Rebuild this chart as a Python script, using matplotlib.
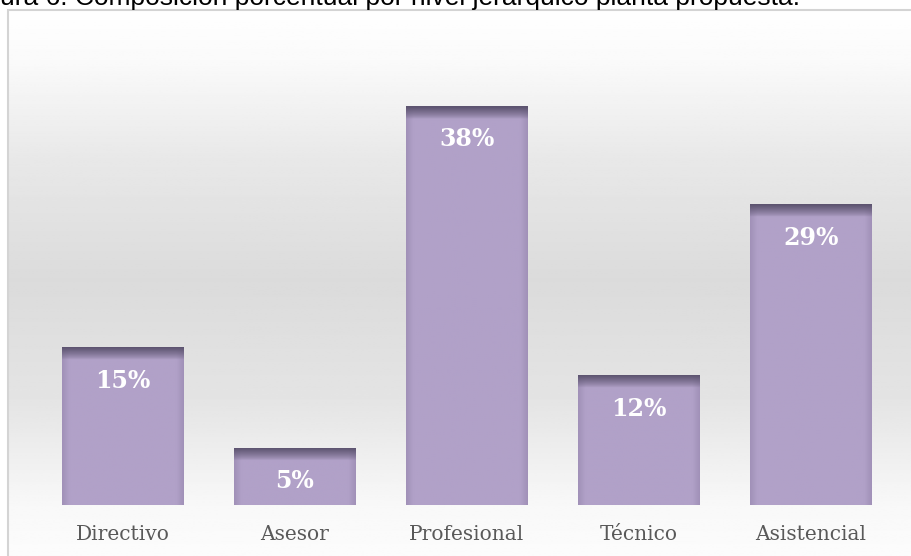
import matplotlib

matplotlib.use("Agg")
import matplotlib.pyplot as plt
import numpy as np
from matplotlib.colors import to_rgb
from matplotlib.patches import Rectangle

categories = ["Directivo", "Asesor", "Profesional", "Técnico", "Asistencial"]
values = [15.0, 5.4, 38.0, 12.3, 28.6]
title = "ura 6. Composición porcentual por nivel jerárquico planta propuesta."

W, H = 912, 556
fig = plt.figure(figsize=(W / 100, H / 100), dpi=100)

# background panel with vertical grey gradient
bg = fig.add_axes([8 / W, 0, 1 - 8 / W, 1 - 10 / H])
ys = np.linspace(10, 556, 300)
shade = np.interp(ys, [10, 60, 160, 280, 400, 505, 556], [255, 250, 232, 219, 228, 248, 252]) / 255
grad = np.repeat(shade[:, None], 2, axis=1)
bg.imshow(grad, cmap="gray", vmin=0, vmax=1, aspect="auto", extent=[0, 1, 0, 1], origin="upper")
bg.set_xlim(0, 1)
bg.set_ylim(0, 1)
bg.axis("off")
fig.patches.append(Rectangle((8 / W, -0.01), 1.2, 1 - 10 / H + 0.01, transform=fig.transFigure,
                             fill=False, edgecolor="#D4D4D4", linewidth=1.5))

# title is cut off by the top edge, as in the source screenshot
fig.text(0, 1 - 5 / H, title, fontsize=19, family="Liberation Sans", color="black",
         va="baseline", ha="left")

ax = fig.add_axes([37 / W, 1 - 505 / H, 860 / W, 420 / H])
ax.patch.set_alpha(0)
ax.set_xlim(-0.5, 4.5)
ax.set_ylim(0, 40)
ax.axis("off")

bar_col = np.array(to_rgb("#B1A1C8"))
cap_col = np.array(to_rgb("#5D5470"))
edge_col = np.array(to_rgb("#8E7FA5"))
bw = 122 / 172
cap = 1.15
x = np.arange(len(categories))
bars = ax.bar(x, values, width=bw, color="#B1A1C8", linewidth=0, zorder=2)

for xi, v in zip(x, values):
    ny, nx = 200, 120
    yy = np.linspace(v, 0, ny)[:, None]
    xx = np.linspace(0, 1, nx)[None, :]
    img = np.ones((ny, nx, 3)) * bar_col
    # side shading
    side = np.clip(1 - np.minimum(xx, 1 - xx) / 0.06, 0, 1) * 0.45
    img = img * (1 - side[..., None]) + edge_col * side[..., None]
    # dark top cap fading down
    t = np.clip((yy - (v - cap)) / cap, 0, 1) ** 0.8
    img = img * (1 - t[..., None]) + cap_col * t[..., None]
    ax.imshow(img, extent=[xi - bw / 2, xi + bw / 2, 0, v], aspect="auto", zorder=3,
              interpolation="bilinear")
    ax.text(xi, v - 3.15, f"{v:.0f}%", ha="center", va="center", color="white",
            fontsize=17, fontweight="bold", family="DejaVu Serif", zorder=4)
    ax.text(xi, -2.85, categories[xi], ha="center", va="center", color="#595959",
            fontsize=14.5, family="DejaVu Serif", clip_on=False)

fig.savefig("out.png", dpi=100)
